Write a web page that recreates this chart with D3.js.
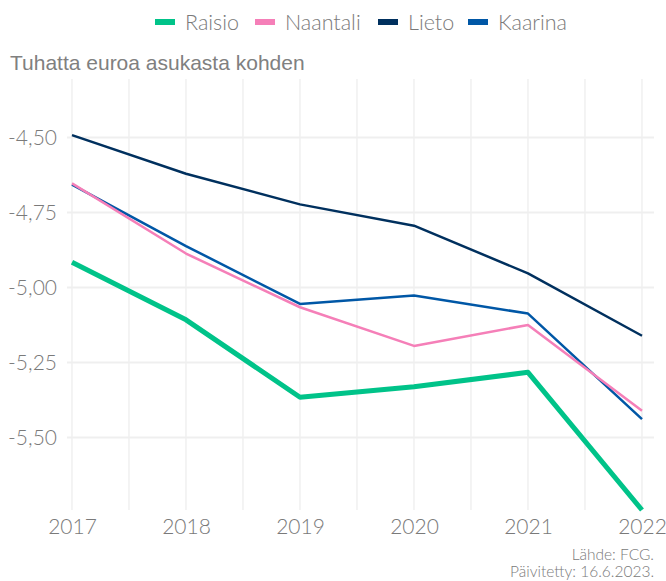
<!DOCTYPE html>
<html>
<head>
<meta charset="utf-8">
<script src="https://cdn.jsdelivr.net/npm/d3@7"></script>
<style>
  html, body { margin: 0; padding: 0; background: #fff; }
  svg { display: block; }
</style>
</head>
<body>
<svg id="chart" width="666" height="581"></svg>
<script>
// Kuntien tulos, tuhatta euroa asukasta kohden
const years = [2017, 2018, 2019, 2020, 2021, 2022];
const raisio   = [-4.916, -5.108, -5.366, -5.331, -5.283, -5.742];
const naantali = [-4.653, -4.887, -5.066, -5.195, -5.125, -5.411];
const lieto    = [-4.492, -4.621, -4.723, -4.794, -4.953, -5.161];
const kaarina  = [-4.657, -4.862, -5.055, -5.027, -5.087, -5.439];

const seriesNames = ["Raisio", "Naantali", "Lieto", "Kaarina"];
const seriesValues = [raisio, naantali, lieto, kaarina];
const seriesColors = ["#00c389", "#f57fb8", "#00305e", "#0057a6"];
const seriesWidths = [5, 2.5, 2.5, 2.5];

const yTicks = [-4.5, -4.75, -5.0, -5.25, -5.5];
const yTickLabels = ["-4,50", "-4,75", "-5,00", "-5,25", "-5,50"];
const xTickLabels = ["2017", "2018", "2019", "2020", "2021", "2022"];

const titleText = "Tuhatta euroa asukasta kohden";
const captionLines = ["Lähde: FCG.", "Päivitetty: 16.6.2023."];

const svg = d3.select("#chart");
const panel = { left: 67, right: 654, top: 79, bottom: 510 };
const labelFont = "Lato, 'Noto Sans', sans-serif";
const grey = "#7a7a7a";

const x = d3.scaleLinear().domain([2017, 2022]).range([72, 642]);
const y = d3.scaleLinear().domain([-5.742, -4.305]).range([panel.bottom, panel.top]);

// grid: vertical at years and half-years, horizontal at major ticks
const vGrid = d3.range(2017, 2022.01, 0.5);
svg.append("g").selectAll("line").data(vGrid).join("line")
  .attr("x1", d => x(d)).attr("x2", d => x(d))
  .attr("y1", panel.top).attr("y2", panel.bottom)
  .attr("stroke", "#ececec").attr("stroke-width", 1.2);

svg.append("g").selectAll("line").data(yTicks).join("line")
  .attr("x1", panel.left).attr("x2", panel.right)
  .attr("y1", d => y(d)).attr("y2", d => y(d))
  .attr("stroke", "#efefef").attr("stroke-width", 2);

// axes
const yAxis = d3.axisLeft(y).tickValues(yTicks)
  .tickFormat((d, i) => yTickLabels[i]).tickSize(0).tickPadding(10);
const gy = svg.append("g").attr("transform", `translate(${panel.left},0)`).call(yAxis);
gy.select(".domain").remove();
gy.selectAll("text").attr("fill", grey).style("font-family", labelFont)
  .style("font-size", "21px").style("font-weight", 300);

const xAxis = d3.axisBottom(x).tickValues(years)
  .tickFormat((d, i) => xTickLabels[i]).tickSize(0).tickPadding(9);
const gx = svg.append("g").attr("transform", `translate(0,${panel.bottom})`).call(xAxis);
gx.select(".domain").remove();
gx.selectAll("text").attr("fill", grey).style("font-family", labelFont)
  .style("font-size", "21px").style("font-weight", 300);

// lines
const line = d3.line().x((d, i) => x(years[i])).y(d => y(d));
const order = [2, 3, 1, 0];
order.forEach(k => {
  svg.append("path")
    .datum(seriesValues[k])
    .attr("d", line)
    .attr("fill", "none")
    .attr("stroke", seriesColors[k])
    .attr("stroke-width", seriesWidths[k])
    .attr("stroke-linejoin", "round");
});

// title
svg.append("text").attr("x", 10).attr("y", 70)
  .attr("fill", "#808080").style("font-family", "'Liberation Sans', Arial, sans-serif")
  .style("font-size", "21px").text(titleText);

// legend
const legend = svg.append("g");
const entryX = [155, 255, 378, 468];
seriesNames.forEach((name, i) => {
  legend.append("rect").attr("x", entryX[i]).attr("y", 19).attr("width", 20).attr("height", 6)
    .attr("fill", seriesColors[i]);
  legend.append("text").attr("x", entryX[i] + 30).attr("y", 30)
    .attr("fill", grey).style("font-family", labelFont)
    .style("font-size", "21.5px").style("font-weight", 300).text(name);
});

// caption
captionLines.forEach((t, i) => {
  svg.append("text").attr("x", 654).attr("y", 560 + i * 17)
    .attr("text-anchor", "end").attr("fill", grey)
    .style("font-family", labelFont).style("font-size", "15.5px").style("font-weight", 300)
    .text(t);
});
</script>
</body>
</html>
